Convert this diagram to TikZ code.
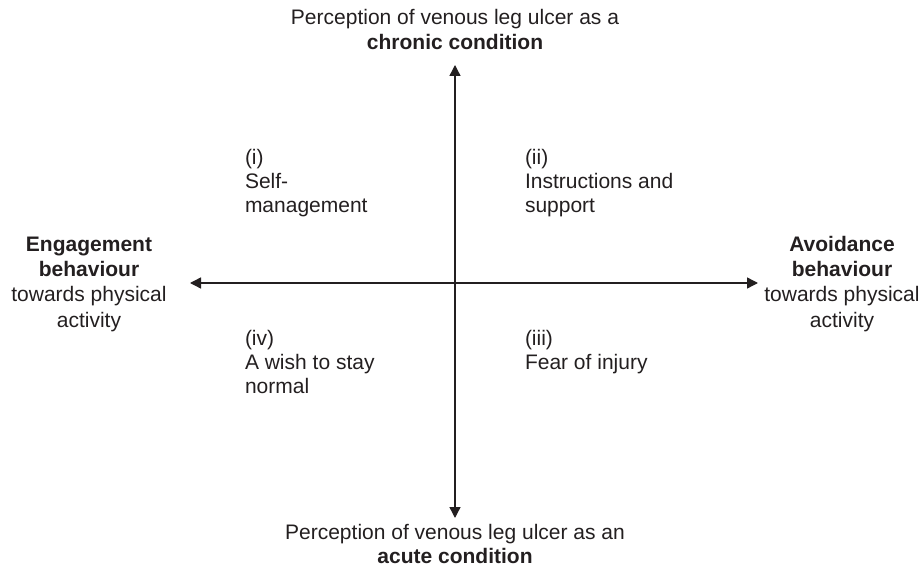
\documentclass[tikz,border=0pt]{standalone}
\usepackage{fontspec}
\setmainfont{Liberation Sans}
\usetikzlibrary{arrows.meta}
\definecolor{ink}{HTML}{231F20}
\begin{document}
\begin{tikzpicture}[x=1pt,y=-1pt,
  txt/.style={inner sep=0pt,outer sep=0pt,text=ink,font=\fontsize{21}{25}\selectfont},
  cline/.style={txt,anchor=base},
  lline/.style={txt,anchor=base west},
  axis/.style={draw=ink,line width=1.4pt,{Triangle[length=11pt,width=11pt]}-{Triangle[length=11pt,width=11pt]}}]
\useasboundingbox (0,0) rectangle (922,572);
% axes endpoints
\coordinate (top) at (455,65);
\coordinate (bot) at (455,518);
\coordinate (lft) at (190,283);
\coordinate (rgt) at (758,283);
\draw[axis] (bot) -- (top);
\draw[axis] (lft) -- (rgt);
% top label
\node[cline] (t1) at (455,25) {Perception of venous leg ulcer as a};
\node[cline] (t2) at (455,50) {\bfseries chronic condition};
% bottom label
\node[cline] (b1) at (455,539) {Perception of venous leg ulcer as an};
\node[cline] (b2) at (455,563) {\bfseries acute condition};
% left label
\node[cline] (l1) at (89,252) {\bfseries Engagement};
\node[cline] (l2) at (89,277) {\bfseries behaviour};
\node[cline] (l3) at (89,302) {towards physical};
\node[cline] (l4) at (89,327) {activity};
% right label
\node[cline] (r1) at (842,252) {\bfseries Avoidance};
\node[cline] (r2) at (842,277) {\bfseries behaviour};
\node[cline] (r3) at (842,302) {towards physical};
\node[cline] (r4) at (842,327) {activity};
% quadrant (i)
\node[lline] (q1a) at (245,165) {(i)};
\node[lline] (q1b) at (245,189) {Self-};
\node[lline] (q1c) at (245,213) {management};
% quadrant (ii)
\node[lline] (q2a) at (525,165) {(ii)};
\node[lline] (q2b) at (525,189) {Instructions and};
\node[lline] (q2c) at (525,213) {support};
% quadrant (iv)
\node[lline] (q4a) at (245,345) {(iv)};
\node[lline] (q4b) at (245,370) {A wish to stay};
\node[lline] (q4c) at (245,393) {normal};
% quadrant (iii)
\node[lline] (q3a) at (525,345) {(iii)};
\node[lline] (q3b) at (525,370) {Fear of injury};
\end{tikzpicture}
\end{document}
